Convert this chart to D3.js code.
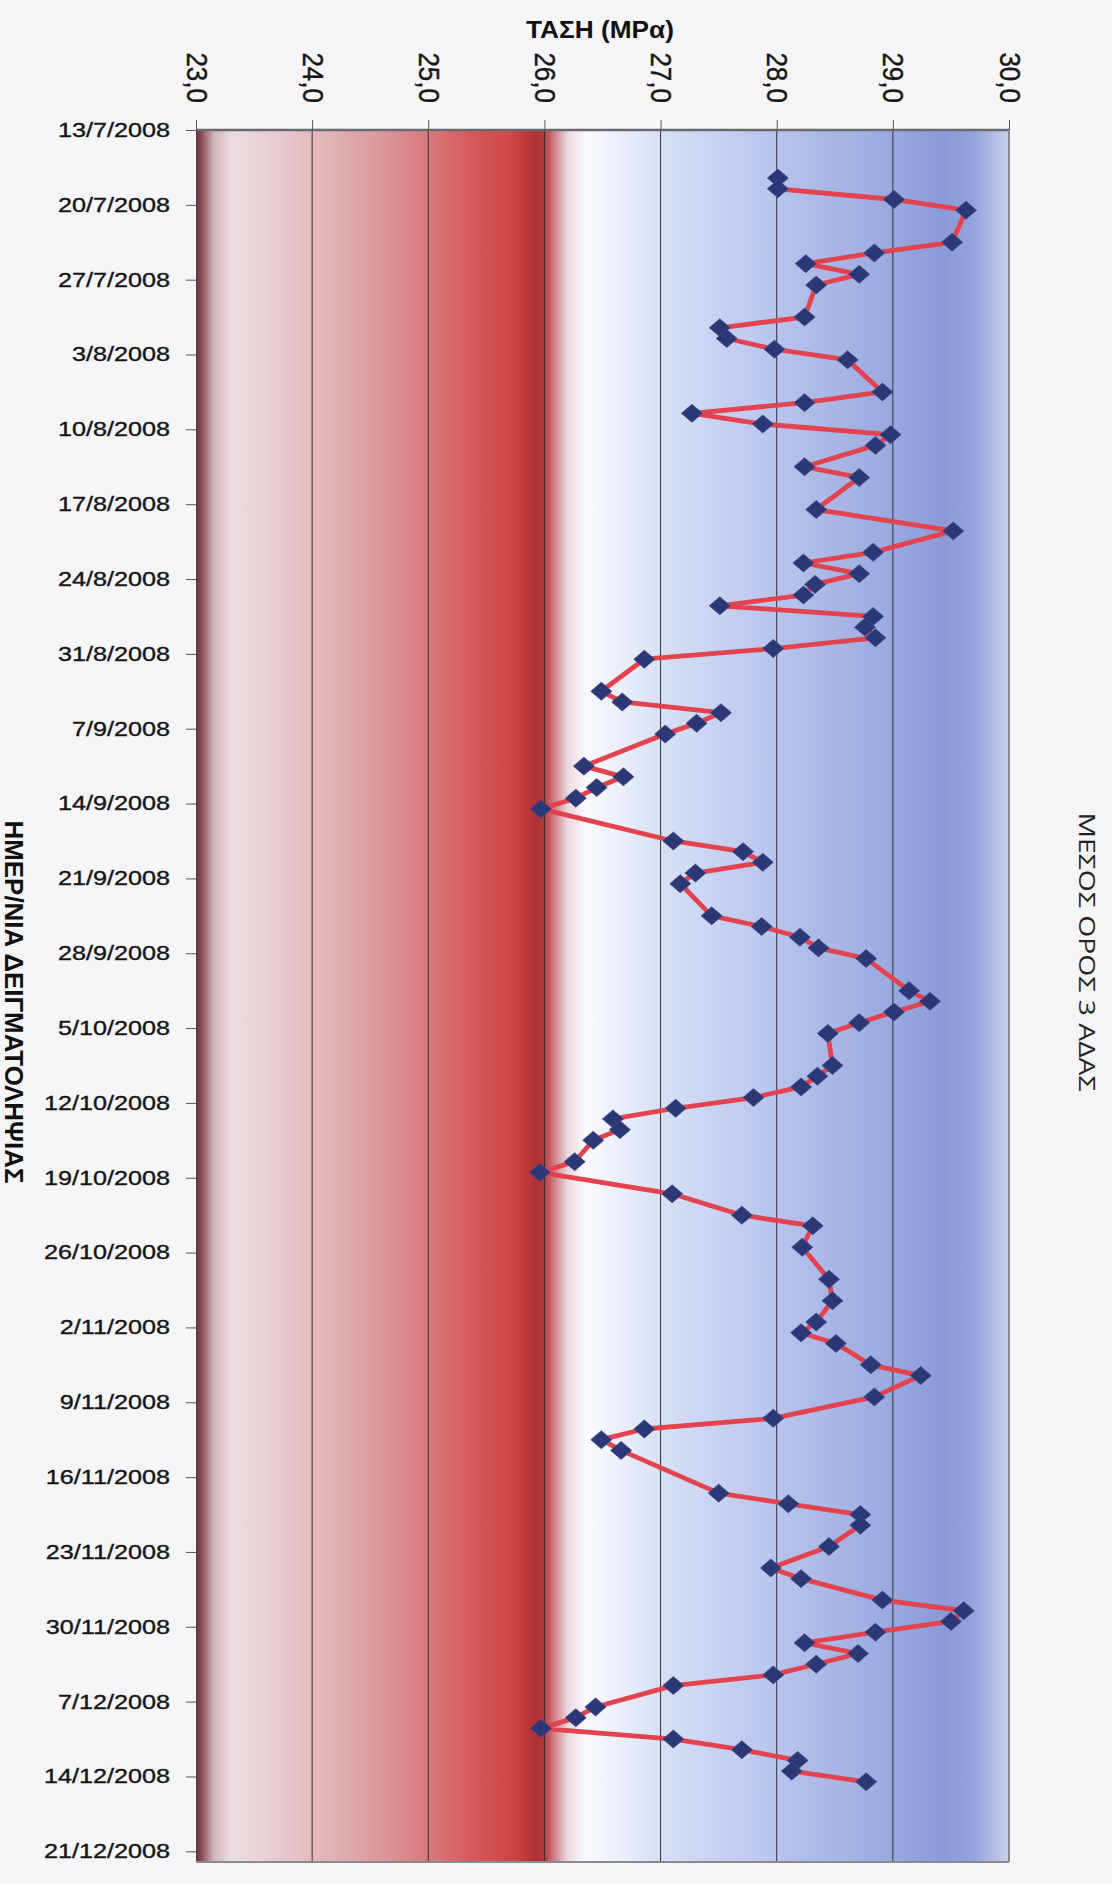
<!DOCTYPE html>
<html><head><meta charset="utf-8">
<script src="https://cdn.jsdelivr.net/npm/d3@7"></script>
<style>
html,body{margin:0;padding:0;background:#f6f6f8;}
svg{display:block;}
</style></head><body>
<svg id="chart" width="1112" height="1884"></svg>
<script>
// ---------------- DATA ----------------
const sampleDates = [
"17/7/2008","18/7/2008","19/7/2008","20/7/2008","23/7/2008","24/7/2008","25/7/2008","26/7/2008","27/7/2008",
"30/7/2008","31/7/2008","1/8/2008","2/8/2008","3/8/2008",
"6/8/2008","7/8/2008","8/8/2008","9/8/2008","10/8/2008","11/8/2008","13/8/2008","14/8/2008",
"17/8/2008","19/8/2008","21/8/2008","22/8/2008","23/8/2008","24/8/2008","25/8/2008","26/8/2008","27/8/2008","28/8/2008","29/8/2008","30/8/2008","31/8/2008",
"3/9/2008","4/9/2008","5/9/2008","6/9/2008","7/9/2008",
"10/9/2008","11/9/2008","12/9/2008","13/9/2008","14/9/2008",
"17/9/2008","18/9/2008","19/9/2008","20/9/2008","21/9/2008",
"24/9/2008","25/9/2008","26/9/2008","27/9/2008","28/9/2008",
"1/10/2008","2/10/2008","3/10/2008","4/10/2008","5/10/2008",
"8/10/2008","9/10/2008","10/10/2008","11/10/2008","12/10/2008","13/10/2008","14/10/2008","15/10/2008","17/10/2008","18/10/2008",
"20/10/2008","22/10/2008","23/10/2008","25/10/2008","28/10/2008","30/10/2008",
"1/11/2008","2/11/2008","3/11/2008","5/11/2008","6/11/2008","8/11/2008",
"10/11/2008","11/11/2008","12/11/2008","13/11/2008",
"17/11/2008","18/11/2008","19/11/2008","20/11/2008","22/11/2008","24/11/2008","25/11/2008","27/11/2008","28/11/2008","29/11/2008","30/11/2008",
"1/12/2008","2/12/2008","3/12/2008","4/12/2008","5/12/2008","7/12/2008","8/12/2008","9/12/2008","10/12/2008","11/12/2008","12/12/2008","13/12/2008","14/12/2008"
];
const stressValues = [
28.01,28.01,29.01,29.63,29.51,28.84,28.25,28.71,28.34,
28.24,27.51,27.57,27.98,28.61,
28.91,28.24,27.27,27.88,28.98,28.85,28.24,28.71,
28.34,29.52,28.83,28.23,28.71,28.33,28.23,27.51,28.83,28.76,28.85,27.97,26.86,
26.49,26.67,27.52,27.31,27.04,
26.34,26.68,26.45,26.27,25.97,
27.11,27.71,27.88,27.30,27.17,
27.44,27.87,28.20,28.36,28.77,
29.14,29.32,29.01,28.71,28.44,
28.48,28.35,28.21,27.80,27.13,26.59,26.65,26.42,26.26,25.96,
27.10,27.70,28.31,28.22,28.45,28.48,
28.34,28.21,28.51,28.81,29.24,28.84,
27.97,26.86,26.49,26.66,
27.50,28.10,28.72,28.72,28.45,27.95,28.21,28.91,29.61,29.50,28.85,
28.24,28.70,28.34,27.97,27.11,26.44,26.27,25.97,27.11,27.70,28.18,28.13,28.77
];
const stressTicks = [23,24,25,26,27,28,29,30];
const dateAxisStart = "13/7/2008";
const dateAxisEnd = "22/12/2008";
const xTitle = "ΤΑΣΗ (MPα)";
const yTitle = "ΗΜΕΡ/ΝΙΑ ΔΕΙΓΜΑΤΟΛΗΨΙΑΣ";
const seriesName = "ΜΕΣΟΣ ΟΡΟΣ 3 ΑΔΑΣ";

// ---------------- STYLE ----------------
const bgStops = [
 [23.00,"#62303a"],[23.05,"#8a5058"],[23.15,"#cfb2b8"],[23.3,"#ecdde0"],[23.6,"#e8d0d4"],
 [24.0,"#e2bcc0"],[24.5,"#dc9ea2"],[25.0,"#d87a7e"],[25.4,"#d5585c"],[25.75,"#cc4444"],
 [25.93,"#ac3034"],[26.0,"#b33c40"],[26.08,"#cd7c83"],[26.2,"#ecd8df"],[26.35,"#fafafe"],
 [26.6,"#eef1fb"],[27.0,"#d8e0f5"],[27.5,"#c8d2f1"],[28.0,"#b8c4ec"],[28.5,"#a9b6e5"],
 [29.0,"#9aa8df"],[29.45,"#8b9ad7"],[29.7,"#96a4db"],[30.0,"#c8d0ea"]
];
const SX = 1.26;
const SXT = 1.1;
const font = "'Liberation Sans', Arial, sans-serif";
const narrow = "'Liberation Sans Narrow', 'Arial Narrow', 'Liberation Sans', Arial, sans-serif";
const M = {left:196, right:1009, top:130, bottom:1862};

// ---------------- CHART ----------------
const parse = d3.timeParse("%d/%m/%Y");
const fmtDate = d3.timeFormat("%-d/%-m/%Y");
const data = sampleDates.map((s,i) => ({t: d3.timeHour.offset(parse(s), 12), v: stressValues[i]}));

const x = d3.scaleLinear().domain([stressTicks[0], stressTicks[stressTicks.length-1]]).range([M.left, M.right]);
const y = d3.scaleTime().domain([parse(dateAxisStart), parse(dateAxisEnd)]).range([M.top, M.bottom]);

const svg = d3.select("#chart");
const defs = svg.append("defs");
const grad = defs.append("linearGradient").attr("id","bg").attr("gradientUnits","userSpaceOnUse")
  .attr("x1", x(23)).attr("x2", x(30)).attr("y1", 0).attr("y2", 0);
grad.selectAll("stop").data(bgStops).join("stop")
  .attr("offset", d => (d[0]-23)/7).attr("stop-color", d => d[1]);

svg.append("rect").attr("x", x(23)).attr("y", M.top)
  .attr("width", x(30)-x(23)).attr("height", M.bottom-M.top).attr("fill","url(#bg)");

// gridlines
svg.append("g").selectAll("line").data(stressTicks.slice(1,-1)).join("line")
  .attr("x1", d => x(d)).attr("x2", d => x(d)).attr("y1", M.top).attr("y2", M.bottom)
  .attr("stroke","#2f2f35").attr("stroke-width",1);

// borders
svg.append("line").attr("x1",x(23)).attr("x2",x(30)).attr("y1",M.top).attr("y2",M.top)
  .attr("stroke","#6a6a70").attr("stroke-width",2.5);
svg.append("line").attr("x1",x(23)).attr("x2",x(30)).attr("y1",M.bottom).attr("y2",M.bottom)
  .attr("stroke","#8a8a90").attr("stroke-width",2);
svg.append("line").attr("x1",x(30)).attr("x2",x(30)).attr("y1",M.top).attr("y2",M.bottom)
  .attr("stroke","#8a8a92").attr("stroke-width",2);

// top axis (stress)
const gx = svg.append("g").attr("transform",`translate(0,${M.top})`)
  .call(d3.axisTop(x).tickValues(stressTicks).tickSize(10).tickSizeOuter(0)
        .tickFormat(d => d3.format(".1f")(d).replace(".",",")));
gx.select(".domain").remove();
gx.selectAll(".tick line").attr("stroke","#555");
gx.selectAll(".tick text")
  .attr("x",0).attr("y",0).attr("dy",null)
  .attr("text-anchor","end").attr("dominant-baseline","central")
  .attr("transform",`translate(0,-27) scale(${SXT},1) rotate(90)`)
  .attr("font-family",font).attr("font-size",26).attr("fill","#161616")
  .attr("stroke","#161616").attr("stroke-width",0.35);

// left axis (dates)
const weekTicks = d3.timeWeek.range(parse(dateAxisStart), parse(dateAxisEnd));
const gy = svg.append("g").attr("transform",`translate(${M.left},0)`)
  .call(d3.axisLeft(y).tickValues(weekTicks).tickSize(10).tickSizeOuter(0).tickFormat(fmtDate));
gy.select(".domain").remove();
gy.selectAll(".tick line").attr("stroke","#555");
gy.selectAll(".tick text")
  .attr("x", -26/SX).attr("transform",`scale(${SX},1)`)
  .attr("font-family",font).attr("font-size",20).attr("fill","#141414")
  .attr("stroke","#141414").attr("stroke-width",0.35);

// series line
svg.append("path").datum(data)
  .attr("d", d3.line().x(d => x(d.v)).y(d => y(d.t)))
  .attr("fill","none").attr("stroke","#e2444f").attr("stroke-width",4.8)
  .attr("stroke-linejoin","round");

// diamond markers
svg.append("g").selectAll("path").data(data).join("path")
  .attr("transform", d => `translate(${x(d.v)},${y(d.t)})`)
  .attr("d","M0,-9L10.5,0L0,9L-10.5,0Z")
  .attr("fill","#2c3776").attr("stroke","#3d4a8a").attr("stroke-width",0.8);

// titles
svg.append("text").attr("x", 600).attr("y", 38).attr("text-anchor","middle")
  .attr("font-family",narrow).attr("font-weight","bold").attr("font-size",24)
  .attr("textLength",148).attr("lengthAdjust","spacingAndGlyphs")
  .attr("fill","#111").text(xTitle);

svg.append("text").attr("text-anchor","middle").attr("dominant-baseline","central")
  .attr("transform",`translate(14,1002) scale(${SX},1) rotate(90)`)
  .attr("font-family",narrow).attr("font-weight","bold").attr("font-size",20)
  .attr("textLength",363).attr("lengthAdjust","spacingAndGlyphs")
  .attr("fill","#111").text(yTitle);

svg.append("text").attr("text-anchor","middle").attr("dominant-baseline","central")
  .attr("transform",`translate(1088,952) scale(${SX},1) rotate(90)`)
  .attr("font-family","'Open Sans', 'Noto Sans', sans-serif").attr("font-size",18)
  .attr("textLength",279).attr("lengthAdjust","spacingAndGlyphs")
  .attr("fill","#222").text(seriesName);
</script>
</body></html>
